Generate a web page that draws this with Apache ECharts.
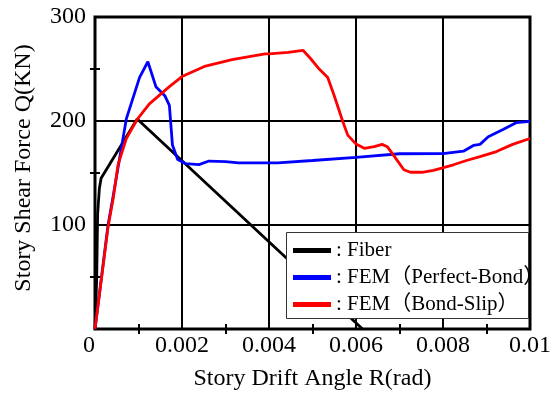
<!DOCTYPE html>
<html>
<head>
<meta charset="utf-8">
<script src="https://cdn.jsdelivr.net/npm/echarts@6/dist/echarts.min.js"></script>
<style>
  html, body { margin: 0; padding: 0; background: #fff; }
  #chart { width: 554px; height: 396px; }
</style>
</head>
<body>
<div id="chart"></div>
<script>
// Story drift angle R (rad) vs story shear force Q (kN)
const fiberR = [0, 0.00004, 0.00006, 0.0001, 0.00014, 0.00097, 0.00615];
const fiberQ = [0, 50, 110, 135, 145, 202, 0];

const perfectR = [0, 0.0003, 0.00041, 0.00072, 0.001025, 0.001215, 0.0014, 0.00161, 0.00171, 0.00178, 0.0019, 0.00209, 0.00239, 0.00262, 0.003, 0.0033, 0.0042, 0.005, 0.006, 0.007, 0.008, 0.00847, 0.0087, 0.00885, 0.00904, 0.00938, 0.00968, 0.01];
const perfectQ = [0, 100, 126, 202, 242, 257, 233, 224, 215, 177, 163, 159, 158, 161.5, 161, 159.8, 159.8, 162, 165, 168.5, 168.7, 171, 176.5, 177.5, 184.8, 191.8, 198.4, 199.7];

const slipR = [0, 0.0003, 0.00042, 0.00053, 0.00072, 0.00097, 0.00125, 0.00171, 0.002, 0.00254, 0.00315, 0.00391, 0.004, 0.00444, 0.00478, 0.00494, 0.00516, 0.00535, 0.0055, 0.0057, 0.00581, 0.006, 0.00619, 0.00642, 0.0066, 0.00672, 0.00691, 0.0071, 0.00725, 0.00752, 0.00778, 0.00797, 0.00824, 0.00854, 0.00885, 0.00923, 0.0096, 0.01];
const slipQ = [0, 98, 126, 158, 183, 201.6, 216.5, 233, 242.7, 252.8, 259, 264.6, 264.5, 266, 268, 260.8, 249.7, 241.8, 224.3, 199, 186.4, 177.8, 173.7, 175.3, 177.5, 175.3, 164.3, 153.1, 150.7, 150.7, 152.6, 154.7, 157.9, 162, 165.8, 170.6, 177.5, 183.2];

const xTickLabels = ['0', '0.002', '0.004', '0.006', '0.008', '0.01'];
const yTickLabels = ['0', '100', '200', '300'];

const seriesNames = ['Fiber', 'FEM（Perfect-Bond）', 'FEM（Bond-Slip）'];
const seriesColors = ['#000000', '#0000ff', '#ff0000'];

const pairs = (xs, ys) => xs.map((x, i) => [x, ys[i]]);

const fontFamily = '"Liberation Serif", "Times New Roman", "Noto Sans CJK JP", serif';

const chart = echarts.init(document.getElementById('chart'));

const minorTick = {
  show: true,
  splitNumber: 2,
  length: 5,
  lineStyle: { color: '#000', width: 2 },
};

const option = {
  animation: false,
  grid: {
    left: 95,
    top: 17,
    right: 20,
    bottom: 63,
    show: true,
    borderColor: '#000',
    borderWidth: 3,
    backgroundColor: 'transparent',
  },
  // legend frame (the legend's own box would be too wide for the CJK parens)
  graphic: [
    {
      type: 'rect',
      z: 10,
      shape: { x: 286.5, y: 232.5, width: 242, height: 86 },
      style: { fill: '#fff', stroke: '#333', lineWidth: 1 },
    },
  ],
  legend: {
    orient: 'vertical',
    left: 286,
    top: 232,
    z: 11,
    padding: [8, 0, 6, 7],
    itemGap: 6,
    itemWidth: 38,
    itemHeight: 5,
    icon: 'rect',
    selectedMode: false,
    formatter: (name) => ': ' + name,
    textStyle: { fontFamily, fontSize: 21, color: '#000', lineHeight: 21 },
    data: seriesNames,
  },
  xAxis: [
    {
      type: 'value',
      min: 0,
      max: 0.01,
      interval: 0.002,
      name: 'Story Drift Angle R(rad)',
      nameLocation: 'middle',
      nameGap: 38,
      nameTextStyle: { fontFamily, fontSize: 24, color: '#000' },
      axisLine: { show: false },
      axisTick: { show: false },
      minorTick: { ...minorTick, inside: true },
      splitLine: { show: true, lineStyle: { color: '#000', width: 2 } },
      axisLabel: {
        fontFamily,
        fontSize: 24,
        color: '#000',
        margin: 5,
        alignMinLabel: 'right',
        formatter: (v) => xTickLabels[Math.round(v / 0.002)],
      },
    },
    {
      type: 'value',
      position: 'top',
      min: 0,
      max: 0.01,
      interval: 0.002,
      axisLine: { show: false },
      axisTick: { show: false },
      axisLabel: { show: false },
      splitLine: { show: false },
      minorTick: { ...minorTick, inside: true },
    },
  ],
  yAxis: [
    {
      type: 'value',
      min: 0,
      max: 300,
      interval: 100,
      name: 'Story Shear Force Q(KN)',
      nameLocation: 'middle',
      nameGap: 59,
      nameTextStyle: { fontFamily, fontSize: 24, color: '#000', padding: [0, 0, 0, 10] },
      axisLine: { show: false },
      axisTick: { show: false },
      minorTick: { ...minorTick, inside: true },
      splitLine: { show: true, lineStyle: { color: '#000', width: 2 } },
      axisLabel: {
        fontFamily,
        fontSize: 24,
        color: '#000',
        margin: 9,
        showMinLabel: false,
        formatter: (v) => yTickLabels[Math.round(v / 100)],
      },
    },
    {
      type: 'value',
      position: 'right',
      min: 0,
      max: 300,
      interval: 100,
      axisLine: { show: false },
      axisTick: { show: false },
      axisLabel: { show: false },
      splitLine: { show: false },
      minorTick: { ...minorTick, inside: true },
    },
  ],
  series: [
    { data: pairs(fiberR, fiberQ) },
    { data: pairs(perfectR, perfectQ) },
    { data: pairs(slipR, slipQ) },
  ].map((s, i) => ({
    name: seriesNames[i],
    type: 'line',
    data: s.data,
    xAxisIndex: 0,
    yAxisIndex: 0,
    showSymbol: false,
    clip: true,
    z: 3,
    lineStyle: { color: seriesColors[i], width: 2.8 },
    itemStyle: { color: seriesColors[i] },
  })),
};

chart.setOption(option);
</script>
</body>
</html>
